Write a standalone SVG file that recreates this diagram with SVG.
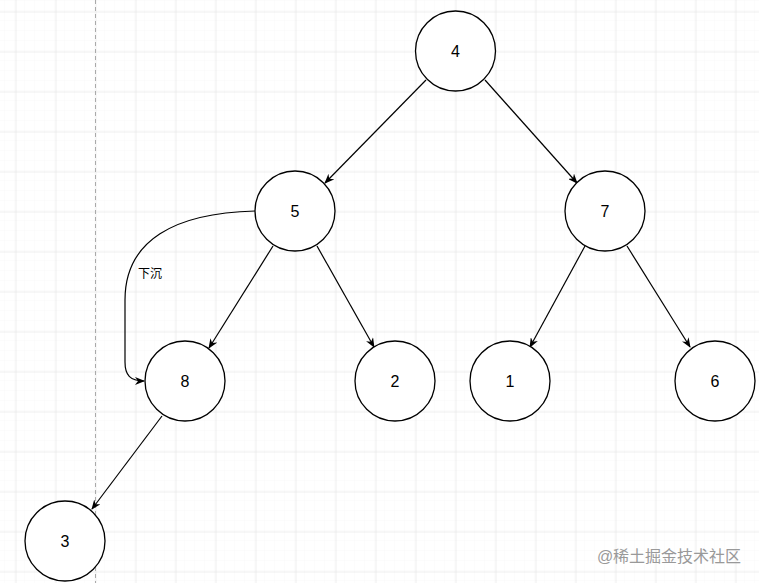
<svg xmlns="http://www.w3.org/2000/svg" width="759" height="583" viewBox="0 0 759 583">
<defs>
<pattern id="minor" width="10" height="10" patternUnits="userSpaceOnUse" x="5" y="1">
<path d="M10 0 V10 M0 10 H10" fill="none" stroke="#f8f8f8" stroke-width="1"/>
</pattern>
<pattern id="major" width="40" height="40" patternUnits="userSpaceOnUse" x="15.5" y="11.5">
<path d="M0 0 V40 M0 0 H40" fill="none" stroke="#dedede" stroke-width="1"/>
</pattern>
<marker id="arr" viewBox="0 0 10 8" refX="9" refY="4" markerWidth="10" markerHeight="8" markerUnits="userSpaceOnUse" orient="auto">
<path d="M0,0 L10,4 L0,8 L3,4 z" fill="#000"/>
</marker>
</defs>
<style>
.node circle{fill:#fff;stroke:#000;stroke-width:1.3}
.node text{font-family:"Liberation Sans",Arial,sans-serif;font-size:16px;fill:#000;text-anchor:middle;dominant-baseline:central}
#edges path{fill:none;stroke:#000;stroke-width:1.2;marker-end:url(#arr)}
</style>
<rect width="759" height="583" fill="#fff"/>
<rect width="759" height="583" fill="url(#minor)"/>
<rect width="759" height="583" fill="url(#major)"/>
<line x1="95.5" y1="0" x2="95.5" y2="583" stroke="#aaa" stroke-width="1" stroke-dasharray="4 3"/>
<g id="edges">
<path d="M426,80 L325,183"/>
<path d="M485,80 L577,183"/>
<path d="M273,246 L209,348"/>
<path d="M317,246 L374,347"/>
<path d="M585,246 L530,347"/>
<path d="M627,246 L690,347"/>
<path d="M162,416 L92,509"/>
<path d="M255,211 C175,213 125,240 125,300 L125,362 C125,375 130,381 144,381"/>
</g>
<text x="150" y="278" font-family="Liberation Sans,Noto Sans CJK SC,sans-serif" font-size="12" text-anchor="middle" fill="#000">下沉</text>
<g id="n4" class="node"><circle cx="455.5" cy="51" r="40"/><text x="455.5" y="51">4</text></g>
<g id="n5" class="node"><circle cx="295" cy="211" r="40"/><text x="295" y="211">5</text></g>
<g id="n7" class="node"><circle cx="605" cy="211" r="40"/><text x="605" y="211">7</text></g>
<g id="n8" class="node"><circle cx="185" cy="381" r="40"/><text x="185" y="381">8</text></g>
<g id="n2" class="node"><circle cx="395" cy="381" r="40"/><text x="395" y="381">2</text></g>
<g id="n1" class="node"><circle cx="510" cy="381" r="40"/><text x="510" y="381">1</text></g>
<g id="n6" class="node"><circle cx="715" cy="381" r="40"/><text x="715" y="381">6</text></g>
<g id="n3" class="node"><circle cx="65" cy="541" r="40"/><text x="65" y="541">3</text></g>
<text x="669" y="562" font-family="Liberation Sans,Noto Sans CJK SC,sans-serif" font-size="16" text-anchor="middle" fill="#999">@稀土掘金技术社区</text>
</svg>
